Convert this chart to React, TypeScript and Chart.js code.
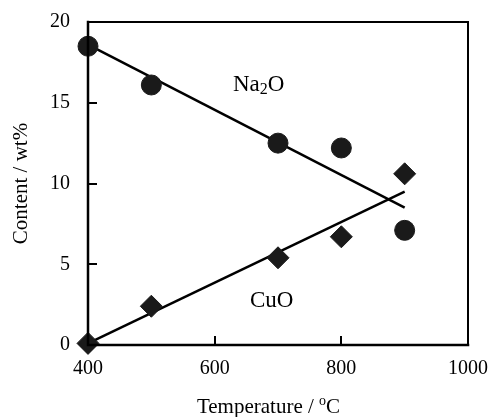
import React, { useEffect, useRef } from "react";
import { Chart, registerables } from "chart.js";

Chart.register(...registerables);

const temperatures = [400, 500, 700, 800, 900];
const na2oContent = [18.5, 16.1, 12.5, 12.2, 7.1];
const cuoContent = [0.1, 2.4, 5.4, 6.7, 10.6];
const trendTemperatures = [400, 900];
const na2oTrend = [18.6, 8.5];
const cuoTrend = [0.1, 9.5];
const xTicks = [400, 600, 800, 1000];
const yTicks = [0, 5, 10, 15, 20];
const xTitleMain = "Temperature / ";
const xTitleSup = "o";
const xTitleEnd = "C";
const yTitle = "Content / wt%";

const FONT = '"Liberation Serif", "Times New Roman", serif';

const decorPlugin = {
  id: "decor",
  afterDraw(chart: any) {
    const { ctx, chartArea, scales } = chart;
    const { left, top, right, bottom } = chartArea;
    const x = scales.x;
    const y = scales.y;
    ctx.save();
    ctx.strokeStyle = "#000";
    ctx.lineCap = "square";
    // frame
    ctx.lineWidth = 2;
    ctx.beginPath();
    ctx.moveTo(left, top);
    ctx.lineTo(right, top);
    ctx.lineTo(right, bottom);
    ctx.stroke();
    ctx.lineWidth = 2.5;
    ctx.beginPath();
    ctx.moveTo(left, top);
    ctx.lineTo(left, bottom);
    ctx.lineTo(right, bottom);
    ctx.stroke();
    // inward ticks
    ctx.lineWidth = 2;
    ctx.lineCap = "butt";
    xTicks.forEach((v) => {
      if (v <= x.min || v >= x.max) return;
      const px = Math.round(x.getPixelForValue(v));
      ctx.beginPath();
      ctx.moveTo(px, bottom);
      ctx.lineTo(px, bottom - 9);
      ctx.stroke();
    });
    yTicks.forEach((v) => {
      if (v <= y.min || v >= y.max) return;
      const py = Math.round(y.getPixelForValue(v));
      ctx.beginPath();
      ctx.moveTo(left, py);
      ctx.lineTo(left + 9, py);
      ctx.stroke();
    });
    ctx.fillStyle = "#000";
    // x title
    ctx.textBaseline = "alphabetic";
    ctx.textAlign = "left";
    const mainFont = "21px " + FONT;
    const supFont = "14px " + FONT;
    ctx.font = mainFont;
    const w1 = ctx.measureText(xTitleMain).width;
    const w3 = ctx.measureText(xTitleEnd).width;
    ctx.font = supFont;
    const w2 = ctx.measureText(xTitleSup).width;
    const total = w1 + w2 + w3;
    let tx = 268.5 - total / 2;
    const ty = 413;
    ctx.font = mainFont;
    ctx.fillText(xTitleMain, tx, ty);
    tx += w1;
    ctx.font = supFont;
    ctx.fillText(xTitleSup, tx, ty - 8);
    tx += w2;
    ctx.font = mainFont;
    ctx.fillText(xTitleEnd, tx, ty);
    // y title
    ctx.save();
    ctx.translate(27, (top + bottom) / 2);
    ctx.rotate(-Math.PI / 2);
    ctx.textAlign = "center";
    ctx.textBaseline = "alphabetic";
    ctx.font = mainFont;
    ctx.fillText(yTitle, 0, 0);
    ctx.restore();
    // series labels
    const lblFont = "23px " + FONT;
    const subFont = "16px " + FONT;
    ctx.textAlign = "left";
    let lx = 233;
    const ly = 91;
    ctx.font = lblFont;
    ctx.fillText("Na", lx, ly);
    lx += ctx.measureText("Na").width;
    ctx.font = subFont;
    ctx.fillText("2", lx, ly + 3);
    lx += ctx.measureText("2").width;
    ctx.font = lblFont;
    ctx.fillText("O", lx, ly);
    ctx.font = "23px " + FONT;
    ctx.fillText("CuO", 250, 307);
    ctx.restore();
  },
};

const zeroPad = (s: any) => {
  s.paddingTop = 0;
  s.paddingBottom = 0;
  s.paddingLeft = 0;
  s.paddingRight = 0;
};

export default function App() {
  const ref = useRef<HTMLCanvasElement | null>(null);
  useEffect(() => {
    if (!ref.current) return;
    const chart = new Chart(ref.current, {
      type: "scatter",
      data: {
        datasets: [
          {
            label: "Na2O",
            data: temperatures.map((t, i) => ({ x: t, y: na2oContent[i] })),
            pointStyle: "circle",
            pointRadius: 10,
            pointBackgroundColor: "#1a1a1a",
            pointBorderColor: "#1a1a1a",
            pointBorderWidth: 1,
            showLine: false,
            clip: false,
          },
          {
            label: "CuO",
            data: temperatures.map((t, i) => ({ x: t, y: cuoContent[i] })),
            pointStyle: "rectRot",
            pointRadius: 11,
            pointBackgroundColor: "#1a1a1a",
            pointBorderColor: "#1a1a1a",
            pointBorderWidth: 1,
            showLine: false,
            clip: false,
          },
          {
            label: "Na2O trend",
            data: trendTemperatures.map((t, i) => ({ x: t, y: na2oTrend[i] })),
            showLine: true,
            pointRadius: 0,
            borderColor: "#000",
            borderWidth: 2.5,
            clip: false,
          },
          {
            label: "CuO trend",
            data: trendTemperatures.map((t, i) => ({ x: t, y: cuoTrend[i] })),
            showLine: true,
            pointRadius: 0,
            borderColor: "#000",
            borderWidth: 2.5,
            clip: false,
          },
        ],
      },
      options: {
        responsive: false,
        animation: false,
        layout: { padding: { left: 0, top: 22, right: 22, bottom: 0 } },
        plugins: { legend: { display: false }, tooltip: { enabled: false } },
        scales: {
          x: {
            type: "linear",
            min: 400,
            max: 1000,
            afterBuildTicks: (s: any) => {
              s.ticks = xTicks.map((v) => ({ value: v }));
            },
            afterFit: (s: any) => {
              s.height = 72;
              zeroPad(s);
            },
            grid: { display: false, drawTicks: false, tickLength: 0 },
            border: { display: false },
            ticks: {
              color: "#000",
              font: { family: FONT, size: 20 },
              padding: 12,
              maxRotation: 0,
              callback: (v: any) => String(v),
            },
          },
          y: {
            type: "linear",
            min: 0,
            max: 20,
            afterBuildTicks: (s: any) => {
              s.ticks = yTicks.map((v) => ({ value: v }));
            },
            afterFit: (s: any) => {
              s.width = 88;
              zeroPad(s);
            },
            grid: { display: false, drawTicks: false, tickLength: 0 },
            border: { display: false },
            ticks: {
              color: "#000",
              font: { family: FONT, size: 20 },
              padding: 18,
              callback: (v: any) => String(v),
            },
          },
        },
      },
      plugins: [decorPlugin],
    } as any);
    return () => chart.destroy();
  }, []);
  return (
    <canvas
      ref={ref}
      width={490}
      height={417}
      style={{ position: "absolute", left: 0, top: 0, width: 490, height: 417 }}
    />
  );
}
